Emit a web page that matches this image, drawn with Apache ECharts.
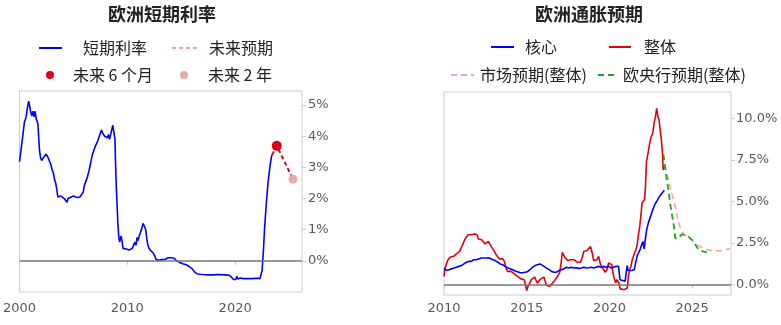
<!DOCTYPE html>
<html>
<head>
<meta charset="utf-8">
<script src="https://cdn.jsdelivr.net/npm/echarts@6/dist/echarts.min.js"></script>
<style>
  html, body { margin: 0; padding: 0; background: #fff; }
  #chart { width: 781px; height: 325px; }
</style>
</head>
<body>
<div id="chart"></div>
<script>
// ---- Left panel: euro short-term rate (%), [decimal year, value] ----
const shortRate = [
  [2000.0,3.18],[2000.15,3.6],[2000.3,4.0],[2000.45,4.45],[2000.6,4.6],[2000.75,4.95],[2000.85,5.12],[2000.95,4.95],
  [2001.05,4.75],[2001.15,4.65],[2001.25,4.8],[2001.35,4.62],[2001.45,4.8],[2001.55,4.55],[2001.7,4.4],[2001.78,3.95],
  [2001.85,3.55],[2001.95,3.3],[2002.05,3.22],[2002.2,3.3],[2002.35,3.35],[2002.45,3.42],[2002.6,3.35],[2002.75,3.3],
  [2002.9,3.1],[2003.0,2.95],[2003.15,2.8],[2003.25,2.6],[2003.35,2.5],[2003.45,2.3],[2003.55,2.05],[2003.7,2.05],
  [2003.85,2.08],[2004.0,2.05],[2004.15,2.0],[2004.3,1.95],[2004.4,1.88],[2004.5,2.0],[2004.65,2.02],[2004.8,2.05],
  [2005.0,2.08],[2005.2,2.05],[2005.4,2.03],[2005.6,2.05],[2005.75,2.05],[2005.9,2.2],[2006.0,2.4],[2006.15,2.55],
  [2006.3,2.7],[2006.45,2.9],[2006.6,3.15],[2006.75,3.4],[2006.9,3.55],[2007.05,3.7],[2007.2,3.8],[2007.35,3.95],
  [2007.5,4.1],[2007.6,4.2],[2007.7,4.1],[2007.8,4.15],[2007.9,4.0],[2008.0,4.05],[2008.15,3.95],[2008.25,4.05],
  [2008.35,3.9],[2008.45,4.05],[2008.55,4.1],[2008.65,4.35],[2008.75,4.32],[2008.85,3.9],[2008.9,3.2],[2008.97,2.4],
  [2009.05,1.8],[2009.12,1.2],[2009.2,0.8],[2009.28,0.6],[2009.35,0.55],[2009.42,0.8],[2009.5,0.65],[2009.6,0.4],
  [2009.75,0.35],[2009.9,0.38],[2010.0,0.32],[2010.15,0.35],[2010.3,0.3],[2010.45,0.4],[2010.6,0.45],[2010.7,0.6],
  [2010.8,0.5],[2010.9,0.75],[2011.0,0.65],[2011.1,0.8],[2011.25,0.95],[2011.35,1.05],[2011.45,1.2],[2011.55,1.25],
  [2011.6,1.1],[2011.7,1.0],[2011.8,0.72],[2011.88,0.55],[2011.95,0.45],[2012.1,0.35],[2012.25,0.3],[2012.4,0.25],
  [2012.55,0.15],[2012.65,0.05],[2012.75,0.0],[2012.9,0.02],[2013.05,0.05],[2013.2,0.04],[2013.35,0.06],[2013.5,0.05],
  [2013.65,0.08],[2013.8,0.1],[2013.95,0.15],[2014.1,0.1],[2014.25,0.15],[2014.35,0.08],[2014.45,0.1],[2014.55,0.0],
  [2014.7,-0.02],[2014.85,-0.05],[2015.0,-0.08],[2015.2,-0.1],[2015.4,-0.12],[2015.6,-0.15],[2015.8,-0.2],[2016.0,-0.25],
  [2016.15,-0.3],[2016.3,-0.38],[2016.5,-0.42],[2016.7,-0.43],[2017.0,-0.44],[2017.5,-0.45],[2018.0,-0.45],[2018.5,-0.44],
  [2019.0,-0.45],[2019.4,-0.46],[2019.6,-0.5],[2019.75,-0.55],[2019.85,-0.6],[2019.95,-0.55],[2020.05,-0.6],[2020.15,-0.5],
  [2020.25,-0.58],[2020.35,-0.52],[2020.5,-0.55],[2020.7,-0.57],[2021.0,-0.57],[2021.5,-0.57],[2022.0,-0.56],[2022.3,-0.57],
  [2022.42,-0.55],[2022.5,-0.3],[2022.58,0.1],[2022.65,0.5],[2022.72,1.0],[2022.8,1.4],[2022.88,1.8],[2022.95,2.1],
  [2023.05,2.5],[2023.15,2.8],[2023.2,2.95],[2023.25,2.9],[2023.3,3.2],[2023.38,3.35],[2023.42,3.4]
];
// expected path: last observation -> 6 months ahead -> 2 years ahead
const rateExpected = [[2023.42,3.4],[2023.86,3.69],[2025.37,2.62]];
const rate6m = [[2023.86,3.69]];
const rate2y = [[2025.37,2.62]];
const leftYLabels = [0,1,2,3,4,5];
const leftXLabels = [2000,2010,2020];

// ---- Right panel: euro-area inflation (%), [decimal year, value] ----
const headline = [
  [2010.0,0.5],[2010.05,0.95],[2010.12,1.0],[2010.2,1.4],[2010.28,1.55],[2010.35,1.5],[2010.42,1.68],[2010.5,1.6],
  [2010.58,1.7],[2010.66,1.6],[2010.75,1.85],[2010.85,1.9],[2010.95,2.0],[2011.05,2.25],[2011.15,2.45],[2011.25,2.7],
  [2011.35,2.85],[2011.45,3.0],[2011.55,2.95],[2011.65,3.0],[2011.75,2.95],[2011.85,3.05],[2011.92,3.1],[2012.0,3.0],
  [2012.08,2.75],[2012.18,2.75],[2012.28,2.7],[2012.38,2.6],[2012.48,2.45],[2012.58,2.5],[2012.68,2.6],[2012.75,2.6],
  [2012.85,2.3],[2012.95,2.2],[2013.05,2.0],[2013.15,1.8],[2013.25,1.7],[2013.35,1.55],[2013.45,1.45],[2013.55,1.55],
  [2013.65,1.4],[2013.75,1.0],[2013.85,0.8],[2013.95,0.85],[2014.05,0.8],[2014.15,0.7],[2014.25,0.65],[2014.35,0.7],
  [2014.45,0.5],[2014.55,0.45],[2014.65,0.35],[2014.75,0.3],[2014.85,0.3],[2014.92,0.0],[2015.0,-0.35],[2015.08,-0.1],
  [2015.18,0.1],[2015.28,0.3],[2015.38,0.25],[2015.48,0.45],[2015.55,0.3],[2015.65,0.1],[2015.75,0.15],[2015.85,0.35],
  [2015.95,0.3],[2016.05,0.45],[2016.12,0.2],[2016.2,-0.05],[2016.3,-0.15],[2016.4,-0.1],[2016.5,0.0],[2016.6,0.15],
  [2016.7,0.25],[2016.8,0.4],[2016.9,0.5],[2017.0,0.75],[2017.08,1.3],[2017.15,1.95],[2017.22,1.8],[2017.3,1.65],
  [2017.4,1.75],[2017.48,1.45],[2017.55,1.4],[2017.65,1.5],[2017.75,1.55],[2017.85,1.5],[2017.95,1.45],[2018.05,1.35],
  [2018.15,1.25],[2018.25,1.35],[2018.35,1.6],[2018.45,2.0],[2018.55,2.1],[2018.65,2.05],[2018.75,2.15],[2018.85,2.3],
  [2018.95,1.95],[2019.05,1.45],[2019.15,1.55],[2019.25,1.5],[2019.35,1.7],[2019.45,1.25],[2019.55,1.05],[2019.65,1.0],
  [2019.75,0.75],[2019.85,0.9],[2019.95,1.3],[2020.05,1.35],[2020.15,1.2],[2020.22,0.7],[2020.3,0.35],[2020.38,0.1],
  [2020.45,0.3],[2020.5,0.4],[2020.58,0.1],[2020.65,-0.25],[2020.75,-0.3],[2020.9,-0.3],[2021.0,-0.28],[2021.08,-0.2],
  [2021.15,0.5],[2021.22,0.9],[2021.3,1.1],[2021.38,1.5],[2021.45,1.7],[2021.52,1.9],[2021.6,2.1],[2021.68,2.4],
  [2021.75,3.0],[2021.82,3.4],[2021.9,4.1],[2021.97,4.9],[2022.05,5.0],[2022.12,5.1],[2022.18,5.9],[2022.24,7.4],
  [2022.3,7.5],[2022.37,8.1],[2022.45,8.6],[2022.53,8.9],[2022.62,9.1],[2022.7,9.7],[2022.78,10.1],[2022.86,10.6],
  [2022.93,10.1],[2023.0,9.9],[2023.08,9.2],[2023.15,8.6],[2023.2,8.0],[2023.25,6.9],[2023.3,7.2],[2023.35,7.0]
];
const core = [
  [2010.0,1.0],[2010.05,0.9],[2010.15,0.85],[2010.3,0.9],[2010.45,0.95],[2010.6,1.0],[2010.75,1.05],[2010.9,1.1],
  [2011.05,1.15],[2011.2,1.25],[2011.35,1.35],[2011.5,1.4],[2011.65,1.4],[2011.8,1.5],[2011.95,1.5],[2012.1,1.55],
  [2012.25,1.6],[2012.4,1.6],[2012.55,1.6],[2012.7,1.62],[2012.8,1.58],[2012.95,1.5],[2013.1,1.45],[2013.25,1.35],
  [2013.4,1.25],[2013.55,1.2],[2013.7,1.1],[2013.85,1.02],[2014.0,0.95],[2014.15,0.9],[2014.3,0.82],[2014.45,0.78],
  [2014.6,0.72],[2014.75,0.72],[2014.9,0.75],[2015.05,0.78],[2015.2,0.9],[2015.35,1.05],[2015.5,1.15],[2015.65,1.2],
  [2015.8,1.25],[2015.9,1.2],[2016.05,1.1],[2016.2,1.0],[2016.35,0.9],[2016.5,0.8],[2016.65,0.75],[2016.8,0.75],
  [2016.95,0.85],[2017.1,0.9],[2017.25,0.95],[2017.4,1.05],[2017.55,1.0],[2017.7,1.05],[2017.85,1.0],[2018.0,1.02],
  [2018.15,0.98],[2018.3,1.0],[2018.45,1.05],[2018.6,1.0],[2018.75,1.02],[2018.9,1.05],[2019.05,1.0],[2019.2,1.05],
  [2019.35,1.1],[2019.5,1.05],[2019.65,1.1],[2019.8,1.05],[2019.95,1.12],[2020.1,1.0],[2020.25,1.05],[2020.4,1.1],
  [2020.55,1.1],[2020.62,1.05],[2020.64,0.3],[2020.8,0.25],[2020.95,0.2],[2021.04,0.18],[2021.07,1.15],[2021.13,0.85],
  [2021.2,0.8],[2021.35,0.85],[2021.5,0.9],[2021.6,0.9],[2021.68,1.75],[2021.78,1.95],[2021.85,2.1],[2021.95,2.4],
  [2022.02,2.6],[2022.1,2.15],[2022.18,2.8],[2022.25,3.3],[2022.35,3.7],[2022.45,4.0],[2022.55,4.3],[2022.66,4.6],
  [2022.76,4.85],[2022.86,5.0],[2022.96,5.2],[2023.06,5.35],[2023.18,5.5],[2023.32,5.68]
];
const marketExpected = [
  [2023.32,7.23],[2023.56,6.32],[2023.76,5.51],[2023.97,4.7],[2024.17,3.8],[2024.37,3.19],[2024.57,2.99],[2024.88,2.79],
  [2025.18,2.48],[2025.49,2.28],[2025.89,2.12],[2026.3,2.04],[2026.7,2.04],[2027.1,2.12],[2027.3,2.18]
];
const ecbExpected = [
  [2023.26,7.84],[2023.42,6.63],[2023.56,5.72],[2023.7,4.7],[2023.87,3.7],[2023.99,2.79],[2024.17,2.79],[2024.37,3.03],
  [2024.47,3.13],[2024.78,2.89],[2025.08,2.59],[2025.38,2.12],[2025.59,2.02],[2025.89,1.94]
];
const rightYLabels = [0,2.5,5,7.5,10];
const rightXLabels = [2010,2015,2020,2025];

const AXIS_FONT = 'DejaVu Sans';
const CJK_FONT = '"Noto Sans CJK SC", "Noto Sans", sans-serif';
const LABEL_COLOR = '#595959';
const FRAME = '#cccccc';

function xAxisOf(grid, min, max, labels, margin) {
  return {
    type: 'value', gridIndex: grid, min: min, max: max,
    axisLine: { show: false },
    splitLine: { show: false },
    axisTick: { show: true, customValues: labels, length: 4, lineStyle: { color: FRAME } },
    axisLabel: { customValues: labels, margin: margin, color: LABEL_COLOR, fontSize: 13, fontFamily: AXIS_FONT,
      formatter: v => String(v) }
  };
}
function yAxisOf(grid, min, max, labels, fmt, margin) {
  return {
    type: 'value', gridIndex: grid, position: 'right', min: min, max: max,
    axisLine: { show: false },
    splitLine: { show: false },
    axisTick: { show: true, customValues: labels, length: 4, lineStyle: { color: FRAME } },
    axisLabel: { customValues: labels, margin: margin, color: LABEL_COLOR, fontSize: 13, fontFamily: AXIS_FONT, formatter: fmt }
  };
}
// one legend block per entry so each entry sits at its own spot
function legendOf(name, left, top, w, h, gap, isLine) {
  const lg = {
    data: [name], left: left, top: top, padding: 0, itemWidth: w, itemHeight: h,
    selectedMode: false,
    textStyle: { fontFamily: CJK_FONT, fontSize: 16, color: '#222', lineHeight: 20, padding: [0, 0, 0, gap] }
  };
  if (isLine) {
    // line entries: show only the stroke, no marker on it
    lg.itemStyle = { color: 'transparent', borderColor: 'transparent', borderWidth: 0, opacity: 0 };
  }
  return lg;
}
const zeroLine = {
  silent: true, symbol: ['none', 'none'], label: { show: false },
  lineStyle: { color: '#777', width: 1.5, type: 'solid' },
  data: [{ yAxis: 0 }]
};

const chart = echarts.init(document.getElementById('chart'), null, { renderer: 'canvas' });
chart.setOption({
  animation: false,
  backgroundColor: '#fff',
  title: [
    { text: '欧洲短期利率', left: 108, top: 5, padding: 0,
      textStyle: { fontFamily: CJK_FONT, fontSize: 18, fontWeight: 'bold', color: '#222' } },
    { text: '欧洲通胀预期', left: 535, top: 5, padding: 0,
      textStyle: { fontFamily: CJK_FONT, fontSize: 18, fontWeight: 'bold', color: '#222' } }
  ],
  legend: [
    legendOf('短期利率', 38, 38, 23, 14, 16, true),
    Object.assign(legendOf('未来预期', 171, 38, 25, 14, 7, true), { lineStyle: { color: '#f2a3a3' } }),
    legendOf('未来 6 个月', 46, 65, 8, 8, 14, false),
    legendOf('未来 2 年', 180, 65, 8, 8, 15, false),
    legendOf('核心', 490, 37, 23, 14, 6, true),
    legendOf('整体', 608, 37, 22, 14, 8, true),
    legendOf('市场预期(整体)', 450, 65, 23, 14, 1, true),
    legendOf('欧央行预期(整体)', 597, 65, 20, 14, 0, true)
  ],
  grid: [
    { left: 16, top: 91, width: 286, height: 201, show: true, borderColor: FRAME, borderWidth: 1, backgroundColor: 'transparent' },
    { left: 444, top: 92, width: 287, height: 203, show: true, borderColor: FRAME, borderWidth: 1, backgroundColor: 'transparent' }
  ],
  xAxis: [
    xAxisOf(0, 2000, 2026.2, leftXLabels, 10),
    xAxisOf(1, 2010, 2027.35, rightXLabels, 7)
  ],
  yAxis: [
    yAxisOf(0, -1.0, 5.45, leftYLabels, v => v + '%', 6),
    yAxisOf(1, -0.62, 11.58, rightYLabels, v => v.toFixed(1) + '%', 5)
  ],
  series: [
    { name: '短期利率', type: 'line', xAxisIndex: 0, yAxisIndex: 0, data: shortRate,
      symbol: 'none', lineStyle: { color: '#0000ff', width: 1.6 }, itemStyle: { color: '#0000ff' },
      markLine: zeroLine, z: 3 },
    { name: '未来预期', type: 'line', xAxisIndex: 0, yAxisIndex: 0, data: rateExpected,
      symbol: 'none', lineStyle: { color: '#e0001b', width: 2, type: [4, 3] }, itemStyle: { color: '#e0001b' }, z: 3 },
    { name: '未来 6 个月', type: 'scatter', xAxisIndex: 0, yAxisIndex: 0, data: rate6m,
      symbol: 'circle', symbolSize: 10, itemStyle: { color: '#d9001b', opacity: 1 }, z: 4 },
    { name: '未来 2 年', type: 'scatter', xAxisIndex: 0, yAxisIndex: 0, data: rate2y,
      symbol: 'circle', symbolSize: 9, itemStyle: { color: '#eaa9ab', opacity: 1 }, z: 4 },

    { name: '核心', type: 'line', xAxisIndex: 1, yAxisIndex: 1, data: core,
      symbol: 'none', lineStyle: { color: '#0000ff', width: 1.6 }, itemStyle: { color: '#0000ff' },
      markLine: zeroLine, z: 3 },
    { name: '整体', type: 'line', xAxisIndex: 1, yAxisIndex: 1, data: headline,
      symbol: 'none', lineStyle: { color: '#e00010', width: 1.6 }, itemStyle: { color: '#e00010' }, z: 2 },
    { name: '市场预期(整体)', type: 'line', xAxisIndex: 1, yAxisIndex: 1, data: marketExpected, smooth: 0.3,
      symbol: 'none', lineStyle: { color: '#f4a6a6', width: 1.6, type: [6, 4] }, itemStyle: { color: '#f4a6a6' }, z: 2 },
    { name: '欧央行预期(整体)', type: 'line', xAxisIndex: 1, yAxisIndex: 1, data: ecbExpected,
      symbol: 'none', lineStyle: { color: '#1aa51a', width: 1.8, type: [6, 4] }, itemStyle: { color: '#1aa51a' }, z: 3 }
  ]
});
</script>
</body>
</html>
